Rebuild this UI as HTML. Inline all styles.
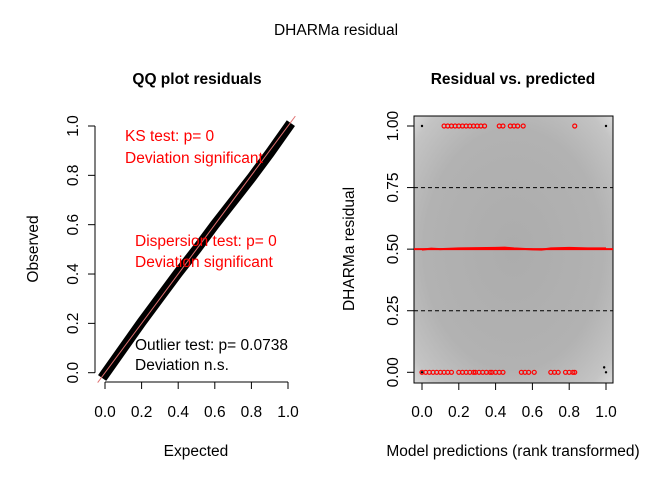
<!DOCTYPE html>
<html><head><meta charset="utf-8"><style>
body{margin:0;background:#fff;}
svg{display:block;font-family:"Liberation Sans",Arial,sans-serif;}
</style></head><body>
<svg id="c" width="672" height="480" viewBox="0 0 672 480">
<defs>
<radialGradient id="bg" cx="50%" cy="50%" r="75%">
<stop offset="0%" stop-color="#acacac"/><stop offset="60%" stop-color="#b2b2b2"/><stop offset="85%" stop-color="#c4c4c4"/><stop offset="100%" stop-color="#e6e6e6"/>
</radialGradient>
</defs>
<text x="336" y="35" text-anchor="middle" font-size="15.5">DHARMa residual</text>
<text x="197" y="84" text-anchor="middle" font-size="15.5" font-weight="bold">QQ plot residuals</text>
<text x="513" y="84" text-anchor="middle" font-size="15.5" font-weight="bold">Residual vs. predicted</text>
<g id="left"></g>
<g id="right"></g>
</svg>
<script>
const qqExpected=[0,0.1,0.2,0.3,0.4,0.5,0.6,0.7,0.8,0.9,1.0];
const qqObserved=[-0.005,0.1,0.205,0.305,0.405,0.5,0.6,0.695,0.79,0.89,0.995];
const qqTicks=[0,0.2,0.4,0.6,0.8,1.0];
const qqTickLabels=["0.0","0.2","0.4","0.6","0.8","1.0"];
const topX=[0.12,0.14,0.16,0.18,0.2,0.22,0.24,0.26,0.28,0.3,0.32,0.34,0.42,0.44,0.48,0.5,0.52,0.55,0.83];
const bottomX=[0.0,0.02,0.04,0.06,0.08,0.1,0.12,0.14,0.16,0.2,0.22,0.24,0.26,0.28,0.29,0.31,0.33,0.35,0.37,0.38,0.4,0.42,0.44,0.54,0.56,0.58,0.61,0.7,0.72,0.74,0.78,0.8,0.82,0.83];
const rvTicksX=[0,0.2,0.4,0.6,0.8,1.0];
const rvTicksXLabels=["0.0","0.2","0.4","0.6","0.8","1.0"];
const rvTicksY=[0,0.25,0.5,0.75,1.0];
const rvTicksYLabels=["0.00","0.25","0.50","0.75","1.00"];
const quantLines=[0.25,0.5,0.75];
const medianX=[0.0,0.05,0.1,0.2,0.3,0.4,0.45,0.5,0.6,0.65,0.7,0.8,0.9,1.0];
const medianY=[0.498,0.502,0.5,0.503,0.504,0.505,0.506,0.503,0.499,0.498,0.503,0.505,0.503,0.503];

const NS="http://www.w3.org/2000/svg";
const FS=15.5;
function mk(p,t,a){const e=document.createElementNS(NS,t);for(const k in a)e.setAttribute(k,a[k]);p.appendChild(e);return e;}
const L=document.getElementById('left'),R=document.getElementById('right');
const lx=v=>105+v*183, ly=v=>372.7-v*246.7;
let pts=qqExpected.map((v,i)=>lx(v)+','+ly(qqObserved[i])).join(' ');
let band=mk(L,'polyline',{points:pts,fill:'none',stroke:'#000','stroke-width':10,'stroke-linecap':'square'});

let ln=mk(L,'line',{x1:lx(-0.04),y1:ly(-0.04),x2:lx(1.04),y2:ly(1.04),stroke:'#e07070','stroke-width':1});

mk(L,'line',{x1:lx(0),y1:382,x2:lx(1),y2:382,stroke:'#000'});
mk(L,'line',{x1:95,y1:ly(0),x2:95,y2:ly(1),stroke:'#000'});
qqTicks.forEach((v,i)=>{
 mk(L,'line',{x1:lx(v),y1:382,x2:lx(v),y2:389,stroke:'#000'});
 let t=mk(L,'text',{x:lx(v),y:417,'text-anchor':'middle','font-size':FS});t.textContent=qqTickLabels[i];
 
 mk(L,'line',{x1:95,y1:ly(v),x2:88,y2:ly(v),stroke:'#000'});
 let u=mk(L,'text',{x:0,y:0,'text-anchor':'middle','font-size':FS,transform:`translate(78,${ly(v)}) rotate(-90)`});u.textContent=qqTickLabels[i];
 
});
function txt(p,x,y,s,c,n,extra){let t=mk(p,'text',Object.assign({x:x,y:y,'font-size':FS,fill:c},extra||{}));t.textContent=s;return t;}
txt(L,196,456,'Expected','#000','x-axis-title',{'text-anchor':'middle'});
txt(L,0,0,'Observed','#000','y-axis-title',{'text-anchor':'middle',transform:'translate(38,249) rotate(-90)'});
txt(L,125,141,'KS test: p= 0','#f00','ks-test-text');
txt(L,125,163,'Deviation  significant','#f00','ks-deviation-text');
txt(L,135,246,'Dispersion test: p= 0','#f00','dispersion-test-text');
txt(L,135,267,'Deviation  significant','#f00','dispersion-deviation-text');
txt(L,135,350,'Outlier test: p= 0.0738','#000','outlier-test-text');
txt(L,135,370,'Deviation  n.s.','#000','outlier-deviation-text');
const rx=v=>422+v*184, ry=v=>372.3-v*246.3;
let bg=mk(R,'rect',{x:414,y:116,width:199,height:267,fill:'url(#bg)',stroke:'#000'});

quantLines.forEach(q=>{
 if(q===0.5)return;
 let l=mk(R,'line',{x1:414,y1:ry(q),x2:613,y2:ry(q),stroke:'#000','stroke-dasharray':'4,3'});
 
});
let ml=mk(R,'line',{x1:414,y1:ry(0.5),x2:613,y2:ry(0.5),stroke:'#f00','stroke-width':2});

let mp=mk(R,'polyline',{points:medianX.map((v,i)=>rx(v)+','+ry(medianY[i])).join(' '),fill:'none',stroke:'#f00','stroke-width':2});

topX.forEach(v=>{let c=mk(R,'circle',{cx:rx(v),cy:ry(1),r:2,fill:'none',stroke:'#f00','stroke-width':1.2});
 });
bottomX.forEach(v=>{let c=mk(R,'circle',{cx:rx(v),cy:ry(0),r:2,fill:'none',stroke:'#f00','stroke-width':1.2});
 });
[[0,1],[1,1],[0,0],[0.99,0.02],[1,0.0]].forEach(p=>mk(R,'circle',{cx:rx(p[0]),cy:ry(p[1]),r:1.2,fill:'#000'}));
rvTicksX.forEach((v,i)=>{
 mk(R,'line',{x1:rx(v),y1:383,x2:rx(v),y2:390,stroke:'#000'});
 let t=mk(R,'text',{x:rx(v),y:417,'text-anchor':'middle','font-size':FS});t.textContent=rvTicksXLabels[i];
 
});
rvTicksY.forEach((v,i)=>{
 mk(R,'line',{x1:414,y1:ry(v),x2:407,y2:ry(v),stroke:'#000'});
 let u=mk(R,'text',{x:0,y:0,'text-anchor':'middle','font-size':FS,transform:`translate(398,${ry(v)}) rotate(-90)`});u.textContent=rvTicksYLabels[i];
 
});
txt(R,513,456,'Model predictions (rank transformed)','#000','x-axis-title',{'text-anchor':'middle'});
txt(R,0,0,'DHARMa residual','#000','y-axis-title',{'text-anchor':'middle',transform:'translate(354,249) rotate(-90)'});
</script>
</body></html>
